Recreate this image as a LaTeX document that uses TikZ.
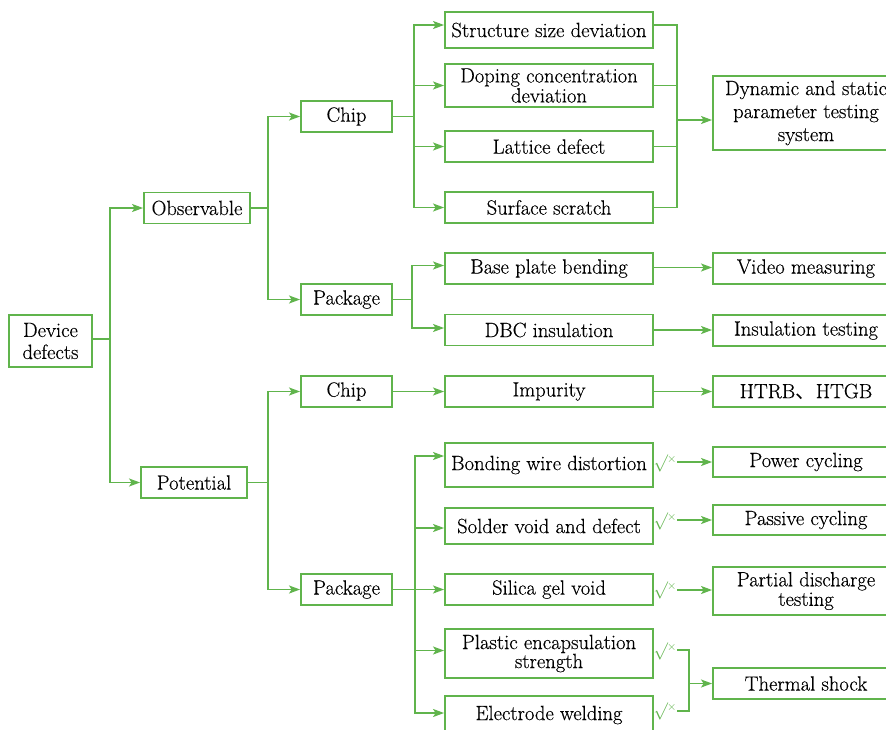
\documentclass[tikz,border=0pt]{standalone}
\usepackage{fontspec}
\newfontfamily\boxfont{Latin Modern Roman}[FakeBold=0.35]
\newfontfamily\cjk{Noto Sans CJK SC}
\usetikzlibrary{arrows.meta}
\definecolor{lineg}{RGB}{96,180,76}
\newcommand{\bsz}[1]{\boxfont\fontsize{20.6}{#1}\selectfont}
\newcommand{\chkmark}{$\surd$\kern-1pt\raisebox{5pt}{\fontsize{12}{12}\selectfont$\times$}}
\begin{document}
\begin{tikzpicture}[x=1pt,y=-1pt,
  box/.style={draw=lineg,line width=1.9pt,fill=white,inner sep=0pt,
    align=center,font=\bsz{21}},
  lv1/.style={box,minimum width=106pt,minimum height=31pt},
  lv2/.style={box,minimum width=91pt,minimum height=31pt},
  lv3/.style={box,minimum width=208pt,minimum height=31pt},
  res/.style={box,minimum width=186pt,minimum height=31pt},
  wire/.style={draw=lineg,line width=1.4pt},
  conn/.style={wire,-{Stealth[length=11pt,width=8pt,inset=2.5pt]}},
  chk/.style={inner sep=0pt,text=lineg,font=\fontsize{16}{16}\selectfont}]
\useasboundingbox (0,0) rectangle (886,729);

% root and first level
\node[box,minimum width=83pt,minimum height=52pt,font=\bsz{22}] (dev) at (50.5,341) {Device\\defects};
\node[lv1] (obs) at (197,208) {Observable};
\node[lv1] (pot) at (194,482.5) {Potential};

% second level
\node[lv2] (chipA) at (346.5,116.5) {Chip};
\node[lv2] (pkgA) at (346.5,299.5) {Package};
\node[lv2] (chipB) at (346.5,391.5) {Chip};
\node[lv2] (pkgB) at (346.5,589.5) {Package};

% defect types
\node[lv3,minimum height=36pt] (ssd) at (549,30) {Structure size deviation};
\node[lv3,minimum height=43pt,font=\bsz{20}] (dop) at (549,85.5) {Doping concentration\\deviation};
\node[lv3] (lat) at (549,146.5) {Lattice defect};
\node[lv3] (sur) at (549,207.5) {Surface scratch};
\node[lv3] (bpb) at (549,268.5) {Base plate bending};
\node[lv3] (dbc) at (549,330) {DBC insulation};
\node[lv3] (imp) at (549,391.5) {Impurity};
\node[lv3,minimum height=44pt] (bon) at (549,465) {Bonding wire distortion};
\node[lv3,minimum height=36pt] (sol) at (549,526) {Solder void and defect};
\node[lv3] (sil) at (549,589.5) {Silica gel void};
\node[lv3,minimum height=49pt,font=\bsz{19}] (pla) at (549,653.5) {Plastic encapsulation\\strength};
\node[lv3,minimum height=38pt] (ele) at (549,715) {Electrode welding};

% test methods
\node[res,minimum height=74pt,font=\bsz{23}] (dyn) at (806,113) {Dynamic and static\\parameter testing\\system};
\node[res] (vid) at (806,268.5) {Video measuring};
\node[res] (ins) at (806,330.5) {Insulation testing};
\node[res] (htr) at (806,391.5) {HTRB{\cjk 、}HTGB};
\node[res,minimum height=30pt] (pow) at (806,462) {Power cycling};
\node[res,minimum height=30pt] (pas) at (806,520) {Passive cycling};
\node[res,minimum height=48pt,font=\bsz{19.5}] (par) at (806,591) {Partial discharge\\testing};
\node[res] (the) at (806,683.5) {Thermal shock};

% check marks
\node[chk] (ck1) at (665,463) {\chkmark};
\node[chk] (ck2) at (665,521) {\chkmark};
\node[chk] (ck3) at (665,590) {\chkmark};
\node[chk] (ck4) at (665,651) {\chkmark};
\node[chk] (ck5) at (665,711) {\chkmark};

% junction points
\coordinate (j1) at (110,339);
\coordinate (j2) at (268,208);
\coordinate (j3) at (268,482.5);
\coordinate (j4) at (414,116.5);
\coordinate (j5) at (412,299.5);
\coordinate (j6) at (415,589.5);
\coordinate (c1) at (677,120);
\coordinate (c2) at (689,683.5);

% root to first level
\draw[wire] (dev.east |- j1) -- (j1);
\draw[conn] (j1) |- (obs.west);
\draw[conn] (j1) |- (pot.west);

% first to second level
\draw[wire] (obs.east) -- (j2);
\draw[conn] (j2) |- (chipA.west);
\draw[conn] (j2) |- (pkgA.west);
\draw[wire] (pot.east) -- (j3);
\draw[conn] (j3) |- (chipB.west);
\draw[conn] (j3) |- (pkgB.west);

% observable chip defects
\draw[wire] (chipA.east) -- (j4);
\draw[conn] (j4) |- ([yshift=5pt]ssd.west);
\draw[conn] (j4) |- (dop.west);
\draw[conn] (j4) |- (lat.west);
\draw[conn] (j4) |- (sur.west);
\draw[wire] ([yshift=5pt]ssd.east) -| (c1);
\draw[wire] (dop.east) -| (c1);
\draw[wire] (lat.east) -| (c1);
\draw[wire] (sur.east) -| (c1);
\draw[conn] (c1) -- (c1 -| dyn.west);

% observable package defects
\draw[wire] (pkgA.east) -- (j5);
\draw[conn] (j5) |- ([yshift=3pt]bpb.west);
\draw[conn] (j5) |- ([yshift=2pt]dbc.west);
\draw[conn] ([yshift=1pt]bpb.east) -- ([yshift=1pt]bpb.east -| vid.west);
\draw[conn] (dbc.east) -- (dbc.east -| ins.west);

% potential chip defects
\draw[conn] (chipB.east) -- (imp.west);
\draw[conn] (imp.east) -- (htr.west);

% potential package defects
\draw[wire] (pkgB.east) -- (j6);
\draw[conn] (j6) |- ([yshift=9pt]bon.west);
\draw[conn] (j6) |- ([yshift=-2pt]sol.west);
\draw[conn] (j6) |- (sil.west);
\draw[conn] (j6) |- ([yshift=3pt]pla.west);
\draw[conn] (j6) |- ([yshift=2pt]ele.west);

% check marks to test methods
\coordinate (a1) at (677,462);
\coordinate (a2) at (677,520);
\coordinate (a3) at (677,590);
\coordinate (a4) at (677,650);
\coordinate (a5) at (677,711);
\draw[conn] (a1) -- (pow.west);
\draw[conn] (a2) -- (pas.west);
\draw[conn] (a3) -- (a3 -| par.west);
\draw[wire] (a4) -| (c2);
\draw[wire] (a5) -| (c2);
\draw[conn] (c2) -- (the.west);
\end{tikzpicture}
\end{document}
